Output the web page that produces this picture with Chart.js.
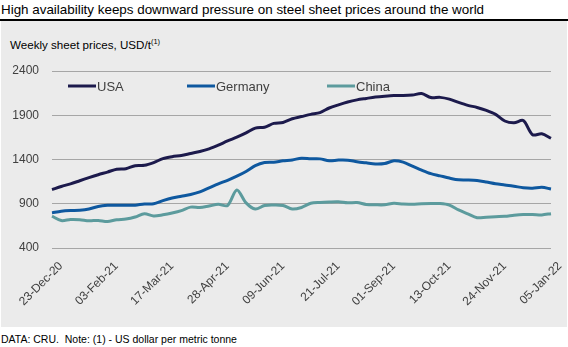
<!DOCTYPE html>
<html lang="en">
<head>
    <meta charset="UTF-8">
    <title>Steel sheet prices</title>
    <style>
        body { margin: 0; background: #fff; font-family: "Liberation Sans", Arial, sans-serif; }
        .wrap { position: relative; width: 568px; height: 347px; overflow: hidden; }
        .title { position: absolute; left: 1px; top: 2px; font-size: 13.4px; color: #000; white-space: nowrap; }
        .rule { position: absolute; left: 0; top: 19px; width: 568px; height: 1.5px; background: #000; }
        .panel { position: absolute; left: 1px; top: 21px; width: 566px; height: 306px; background: #ebebeb; }
        .sub { position: absolute; left: 10px; top: 37px; font-size: 11.6px; color: #000; white-space: nowrap; }
        .sub sup { font-size: 7.5px; }
        .note { position: absolute; left: 1px; top: 333px; font-size: 10.5px; color: #000; white-space: nowrap; }
        #chartBox { position: absolute; left: 0; top: 21px; width: 567px; height: 306px; }
    </style>
    <script src="https://cdn.jsdelivr.net/npm/chart.js"></script>
</head>
<body>
<div class="wrap">
    <div class="title">High availability keeps downward pressure on steel sheet prices around the world</div>
    <div class="rule"></div>
    <div class="panel"></div>
    <div class="sub">Weekly sheet prices, USD/t<sup>(1)</sup></div>
    <div id="chartBox"><canvas id="priceChart" width="567" height="306"></canvas></div>
    <div class="note">DATA: CRU.&nbsp; Note: (1) - US dollar per metric tonne</div>
</div>
<script>
const weeks = [
    '23-Dec-20', '30-Dec-20', '06-Jan-21', '13-Jan-21', '20-Jan-21', '27-Jan-21',
    '03-Feb-21', '10-Feb-21', '17-Feb-21', '24-Feb-21', '03-Mar-21', '10-Mar-21',
    '17-Mar-21', '24-Mar-21', '31-Mar-21', '07-Apr-21', '14-Apr-21', '21-Apr-21',
    '28-Apr-21', '05-May-21', '12-May-21', '19-May-21', '26-May-21', '02-Jun-21',
    '09-Jun-21', '16-Jun-21', '23-Jun-21', '30-Jun-21', '07-Jul-21', '14-Jul-21',
    '21-Jul-21', '28-Jul-21', '04-Aug-21', '11-Aug-21', '18-Aug-21', '25-Aug-21',
    '01-Sep-21', '08-Sep-21', '15-Sep-21', '22-Sep-21', '29-Sep-21', '06-Oct-21',
    '13-Oct-21', '20-Oct-21', '27-Oct-21', '03-Nov-21', '10-Nov-21', '17-Nov-21',
    '24-Nov-21', '01-Dec-21', '08-Dec-21', '15-Dec-21', '22-Dec-21', '29-Dec-21',
    '05-Jan-22'
];
// only every sixth week gets a label on the axis
const shownWeeks = ['23-Dec-20', '03-Feb-21', '17-Mar-21', '28-Apr-21', '09-Jun-21',
    '21-Jul-21', '01-Sep-21', '13-Oct-21', '24-Nov-21', '05-Jan-22'];

const usa = [
    1060, 1095, 1125, 1160, 1195, 1228, 1258, 1290, 1296, 1330, 1334, 1365,
    1410, 1432, 1445, 1468, 1490, 1520, 1562, 1610, 1652, 1700, 1755, 1765,
    1808, 1818, 1860, 1885, 1910, 1930, 1982, 2018, 2050, 2074, 2090, 2105,
    2115, 2122, 2122, 2128, 2145, 2100, 2102, 2082, 2045, 2012, 1988, 1955,
    1910, 1835, 1815, 1840, 1680, 1690, 1640
];
const germany = [
    797, 815, 823, 826, 840, 870, 882, 882, 882, 884, 897, 900,
    935, 965, 985, 1005, 1035, 1080, 1125, 1165, 1212, 1265, 1330, 1365,
    1370, 1385, 1395, 1415, 1408, 1407, 1385, 1393, 1392, 1375, 1362, 1350,
    1355, 1385, 1370, 1325, 1280, 1240, 1215, 1190, 1170, 1168, 1162, 1145,
    1125, 1112, 1098, 1080, 1075, 1086, 1067
];
const china = [
    760, 710, 722, 720, 708, 712, 700, 720, 727, 750, 788, 762,
    775, 795, 822, 862, 858, 875, 893, 880, 1055, 910, 840, 880,
    885, 880, 840, 858, 905, 915, 920, 922, 910, 914, 892, 888,
    888, 905, 896, 895, 900, 902, 902, 885, 830, 785, 742, 748,
    754, 758, 770, 778, 779, 774, 788
];
const yTicks = [400, 900, 1400, 1900, 2400];

// legend sits inside the plot, one entry per series
const inlineLegend = {
    id: 'inlineLegend',
    afterDraw(chart) {
        const c = chart.ctx;
        const spots = [68, 187, 327];
        const y = 65;
        c.save();
        c.font = '13px "Liberation Sans", Arial, sans-serif';
        c.textBaseline = 'middle';
        chart.data.datasets.forEach((ds, i) => {
            const x = spots[i];
            c.strokeStyle = ds.borderColor;
            c.lineWidth = 3;
            c.beginPath();
            c.moveTo(x, y);
            c.lineTo(x + 28, y);
            c.stroke();
            c.fillStyle = '#404040';
            c.fillText(ds.label, x + 29, y + 1);
        });
        c.restore();
    }
};

const series = (label, data, color) => ({
    label: label,
    data: data,
    borderColor: color,
    borderWidth: 3,
    pointRadius: 0,
    tension: 0.3,
    fill: false
});

new Chart(document.getElementById('priceChart'), {
    type: 'line',
    data: {
        labels: weeks,
        datasets: [
            series('USA', usa, '#1c1a4c'),
            series('Germany', germany, '#0e589f'),
            series('China', china, '#5c9b9d')
        ]
    },
    options: {
        responsive: false,
        animation: false,
        layout: { padding: { top: 50, right: 16, left: 0, bottom: 0 } },
        plugins: { legend: { display: false }, tooltip: { enabled: false } },
        scales: {
            x: {
                offset: false,
                grid: { display: false },
                border: { display: false },
                ticks: {
                    autoSkip: false,
                    minRotation: 45,
                    maxRotation: 45,
                    padding: 3,
                    labelOffset: 9,
                    color: '#404040',
                    font: { family: '"Liberation Sans", Arial, sans-serif', size: 12 },
                    callback(value) {
                        const w = weeks[value];
                        return shownWeeks.includes(w) ? w : '';
                    }
                },
                afterFit(scale) { scale.height = 79; }
            },
            y: {
                min: 400,
                max: 2400,
                afterBuildTicks(scale) { scale.ticks = yTicks.map(v => ({ value: v })); },
                grid: { color: '#a6a6a6', lineWidth: 1, drawTicks: false },
                border: { display: false },
                ticks: {
                    padding: 13,
                    color: '#404040',
                    font: { family: '"Liberation Sans", Arial, sans-serif', size: 12 },
                    callback: v => String(v)
                },
                afterFit(scale) { scale.width = 52; }
            }
        }
    },
    plugins: [inlineLegend]
});
</script>
</body>
</html>
